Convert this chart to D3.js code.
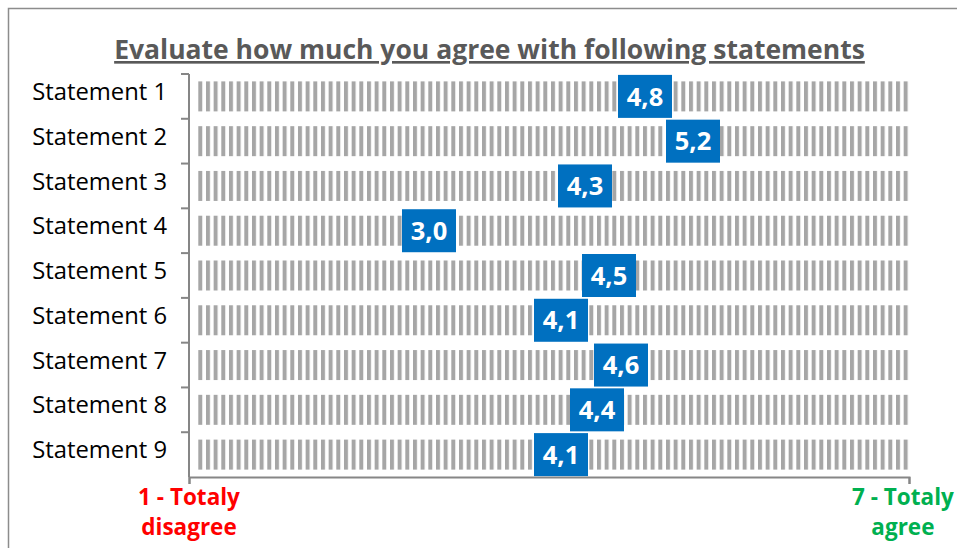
<!DOCTYPE html>
<html>
<head>
<meta charset="utf-8">
<script src="https://cdn.jsdelivr.net/npm/d3@7"></script>
<style>
  html, body { margin: 0; padding: 0; background: #fff; }
  svg { display: block; }
  text { font-family: "Open Sans", Lato, sans-serif; }
</style>
</head>
<body>
<svg id="chart" width="957" height="548"></svg>
<script>
// Survey statements and their average agreement score (scale 1..7)
const statements = ["Statement 1", "Statement 2", "Statement 3", "Statement 4", "Statement 5",
                    "Statement 6", "Statement 7", "Statement 8", "Statement 9"];
const scores = [4.8, 5.2, 4.3, 3.0, 4.5, 4.1, 4.6, 4.4, 4.1];
const scaleMin = 1;
const scaleMax = 7;
const minLabel = ["1 - Totaly", "disagree"];
const maxLabel = ["7 - Totaly", "agree"];
const title = "Evaluate how much you agree with following statements";

const W = 957, H = 548;
const plot = { left: 189, right: 909, top: 74, bottom: 477 };

const svg = d3.select("#chart");

// outer chart frame
svg.append("rect")
  .attr("x", 8.5).attr("y", 8.5)
  .attr("width", W + 20).attr("height", H + 20)
  .attr("fill", "none").attr("stroke", "#8c8c8c").attr("stroke-width", 1.5);

const x = d3.scaleLinear().domain([scaleMin, scaleMax]).range([plot.left, plot.right]);
const y = d3.scaleBand().domain(statements).range([plot.top, plot.bottom])
  .paddingInner(0.33).paddingOuter(0.165);

// vertical hatch used for the full-scale background bars
const defs = svg.append("defs");
const pat = defs.append("pattern")
  .attr("id", "hatch")
  .attr("patternUnits", "userSpaceOnUse")
  .attr("x", 198.3).attr("y", 0)
  .attr("width", 7.667).attr("height", 10);
pat.append("rect").attr("x", 0).attr("y", 0).attr("width", 4).attr("height", 10).attr("fill", "#a6a6a6");

// title
svg.append("text")
  .attr("x", (113 + 866) / 2).attr("y", 59)
  .attr("text-anchor", "middle")
  .attr("font-size", 26.5).attr("font-weight", "bold")
  .attr("fill", "#595959")
  .attr("text-decoration", "underline")
  .text(title);

// background bars spanning the whole scale
svg.append("g").selectAll("rect")
  .data(statements)
  .join("rect")
  .attr("x", x(scaleMin) + 7)
  .attr("y", d => y(d))
  .attr("width", x(scaleMax) - x(scaleMin) - 7)
  .attr("height", y.bandwidth())
  .attr("fill", "url(#hatch)");

// category axis
const yAxis = d3.axisLeft(y).tickSize(0).tickPadding(22);
const gy = svg.append("g").attr("transform", `translate(${plot.left},-4)`).call(yAxis);
gy.select(".domain").remove();
gy.selectAll("text").attr("font-size", 23.8).attr("fill", "#000")
  .style("font-family", "'Open Sans', sans-serif");
// axis line with ticks between categories
const boundaries = d3.range(statements.length + 1).map(i => plot.top + i * y.step());
svg.append("line")
  .attr("x1", plot.left).attr("x2", plot.left)
  .attr("y1", boundaries[0]).attr("y2", plot.bottom)
  .attr("stroke", "#868686").attr("stroke-width", 2);
svg.append("g").selectAll("line")
  .data(boundaries.slice(0, -1))
  .join("line")
  .attr("x1", plot.left - 8).attr("x2", plot.left)
  .attr("y1", d => d).attr("y2", d => d)
  .attr("stroke", "#868686").attr("stroke-width", 2);

// value axis: line plus end ticks
const xAxis = d3.axisBottom(x).tickValues([scaleMin, scaleMax]).tickSize(7).tickFormat("");
const gx = svg.append("g").attr("transform", `translate(0,${plot.bottom})`).call(xAxis);
gx.select(".domain").attr("stroke", "#868686").attr("stroke-width", 2);
gx.selectAll(".tick line").attr("stroke", "#868686").attr("stroke-width", 2);

// end-of-scale labels, kept inside the frame
function endLabel(lines, value, color) {
  const t = svg.append("text")
    .attr("text-anchor", "middle")
    .attr("font-size", 22.5).attr("font-weight", "bold")
    .attr("fill", color);
  const spans = lines.map((s, i) =>
    t.append("tspan").attr("x", x(value)).attr("y", 505 + i * 30).text(s));
  const bb = t.node().getBBox();
  const shift = Math.min(0, W - 3 - (bb.x + bb.width));
  spans.forEach(sp => sp.attr("x", x(value) + shift));
}
endLabel(minLabel, scaleMin, "#ff0000");
endLabel(maxLabel, scaleMax, "#00b050");

// score markers: blue boxes holding the value
const fmt = v => d3.format(".1f")(v).replace(".", ",");
const boxW = 54, boxH = 43;
const marks = svg.append("g").selectAll("g")
  .data(statements.map((s, i) => ({ s, v: scores[i] })))
  .join("g")
  .attr("transform", d => `translate(${x(d.v)},${y(d.s) + y.bandwidth() / 2})`);
marks.append("rect")
  .attr("x", -boxW / 2).attr("y", -boxH / 2)
  .attr("width", boxW).attr("height", boxH)
  .attr("fill", "#0070c0");
marks.append("text")
  .attr("text-anchor", "middle")
  .attr("dy", "0.36em")
  .attr("font-size", 25.5).attr("font-weight", "bold")
  .attr("fill", "#fff")
  .text(d => fmt(d.v));
</script>
</body>
</html>
